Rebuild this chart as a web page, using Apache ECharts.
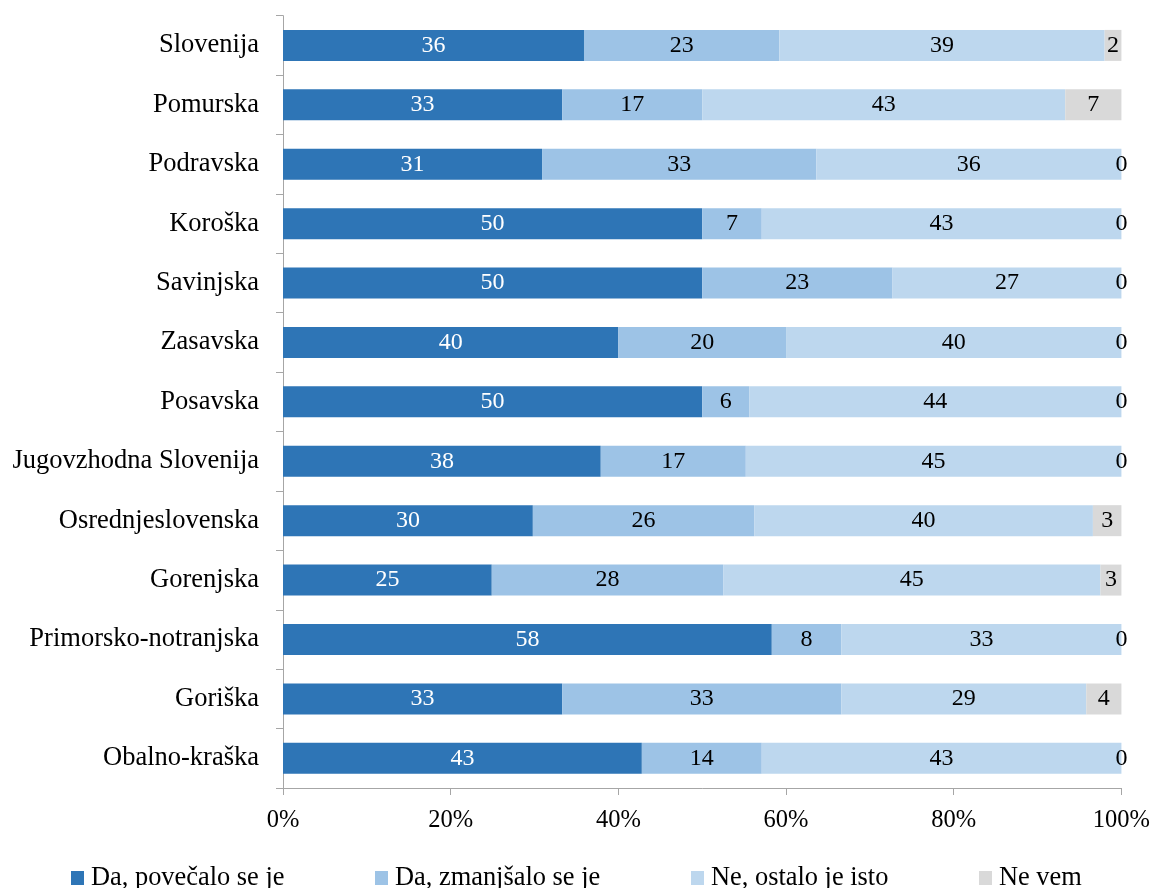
<!DOCTYPE html>
<html>
<head>
<meta charset="utf-8">
<script src="https://cdn.jsdelivr.net/npm/echarts@6/dist/echarts.min.js"></script>
<style>html,body{margin:0;padding:0;background:#fff;}#c{width:1153px;height:888px;}</style>
</head>
<body>
<div id="c"></div>
<script>
const categories = ['Slovenija','Pomurska','Podravska','Koroška','Savinjska','Zasavska','Posavska','Jugovzhodna Slovenija','Osrednjeslovenska','Gorenjska','Primorsko-notranjska','Goriška','Obalno-kraška'];
const seriesNames = ['Da, povečalo se je','Da, zmanjšalo se je','Ne, ostalo je isto','Ne vem'];
const povecalo   = [35.9, 33.3, 30.9, 50.0, 50.0, 40.0, 50.0, 37.9, 29.8, 24.9, 58.3, 33.3, 42.8];
const zmanjsalo  = [23.3, 16.7, 32.7,  7.1, 22.7, 20.0,  5.6, 17.3, 26.4, 27.6,  8.3, 33.3, 14.3];
const isto       = [38.8, 43.3, 36.4, 42.9, 27.3, 40.0, 44.4, 44.8, 40.4, 45.0, 33.4, 29.2, 42.9];
const neVem      = [ 2.0,  6.7,  0.0,  0.0,  0.0,  0.0,  0.0,  0.0,  3.4,  2.5,  0.0,  4.2,  0.0];
const xTicks = [0, 20, 40, 60, 80, 100];

const FONT = "'Liberation Serif','Times New Roman',serif";
const colors = ['#2E75B6', '#9DC3E6', '#BDD7EE', '#D9D9D9'];
const labelColors = ['#FFFFFF', '#000000', '#000000', '#000000'];
const allData = [povecalo, zmanjsalo, isto, neVem];

const chart = echarts.init(document.getElementById('c'), null, {renderer: 'canvas'});
const legendLefts = [71, 375, 691, 979];

const option = {
  backgroundColor: '#ffffff',
  animation: false,
  textStyle: {fontFamily: FONT},
  grid: {left: 283, right: 31, top: 15.7, bottom: 100, containLabel: false},
  legend: seriesNames.map((n, i) => ({
    data: [n],
    left: legendLefts[i],
    top: 863,
    padding: 0,
    itemWidth: 13,
    itemHeight: 14,
    icon: 'rect',
    selectedMode: false,
    textStyle: {fontFamily: FONT, fontSize: 26.4, color: '#000', lineHeight: 30, padding: [0, 0, 0, 2]}
  })),
  xAxis: {
    type: 'value',
    min: xTicks[0],
    max: xTicks[xTicks.length - 1],
    interval: 20,
    axisLine: {show: true, lineStyle: {color: '#A6A6A6', width: 1}},
    axisTick: {show: true, length: 7, lineStyle: {color: '#A6A6A6'}},
    splitLine: {show: false},
    axisLabel: {formatter: '{value}%', fontFamily: FONT, fontSize: 24.5, color: '#000', margin: 20}
  },
  yAxis: {
    type: 'category',
    inverse: true,
    data: categories,
    axisLine: {show: true, lineStyle: {color: '#A6A6A6', width: 1}},
    axisTick: {show: true, length: 7, lineStyle: {color: '#A6A6A6'}},
    axisLabel: {fontFamily: FONT, fontSize: 26.5, color: '#000', margin: 24}
  },
  series: seriesNames.map((n, i) => ({
    name: n,
    type: 'bar',
    stack: 'total',
    barWidth: 31,
    data: allData[i],
    itemStyle: {color: colors[i]},
    label: {
      show: true,
      position: 'inside',
      formatter: p => String(Math.round(p.value)),
      fontFamily: FONT,
      fontSize: 24,
      color: labelColors[i]
    }
  }))
};
chart.setOption(option);
</script>
</body>
</html>
